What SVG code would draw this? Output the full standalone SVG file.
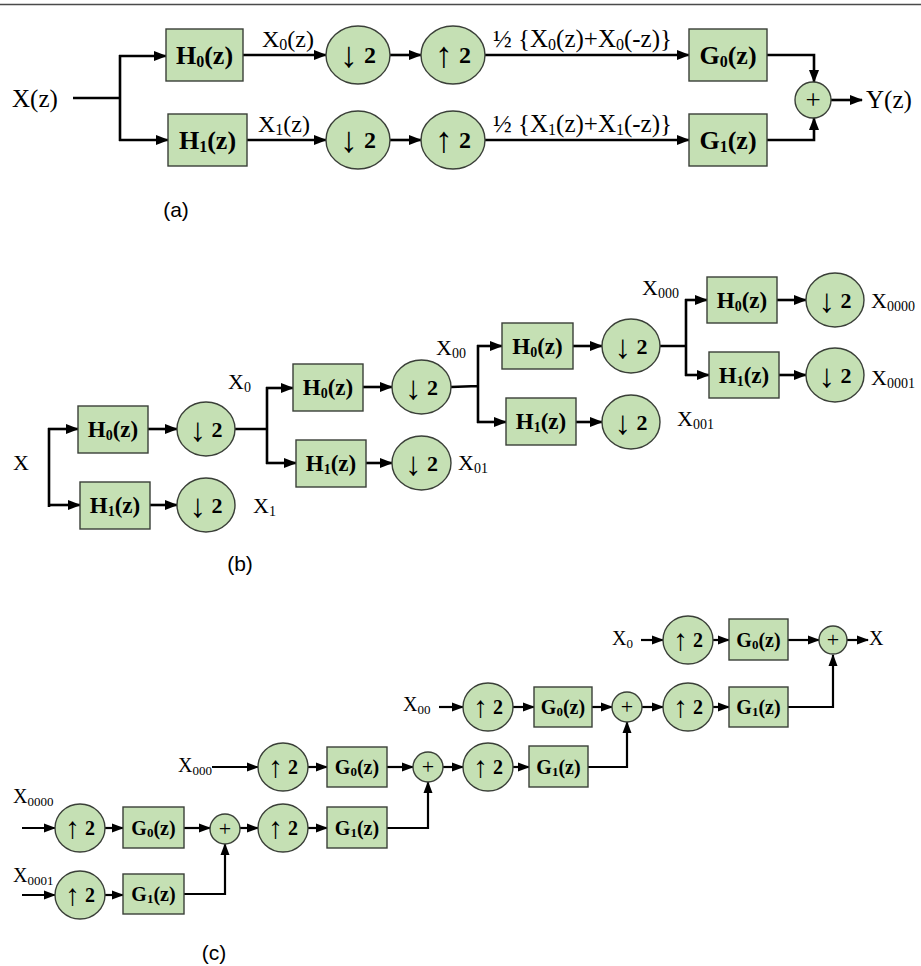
<svg xmlns="http://www.w3.org/2000/svg" width="921" height="966" viewBox="0 0 921 966">
<defs>
<style>
.bx{fill:#c5e0b4;stroke:#3a3f38;stroke-width:1.4}
.ln{fill:none;stroke:#000;stroke-width:2.6;stroke-linejoin:miter}
.ar{marker-end:url(#ah)}
.lc{fill:none;stroke:#000;stroke-width:2.2}
.ac{marker-end:url(#ahc)}
.t{font-family:"Liberation Serif","Times New Roman",serif;fill:#000}
.tb{font-family:"Liberation Serif","Times New Roman",serif;font-weight:bold;fill:#000;text-anchor:middle}
.aw{font-weight:normal}
.cap{font-family:"Liberation Sans",Arial,sans-serif;font-size:21px;fill:#000;text-anchor:middle}
</style>
<marker id="ah" markerUnits="userSpaceOnUse" markerWidth="14" markerHeight="12" refX="12" refY="6" orient="auto"><path d="M0,1 L13,6 L0,11 z" fill="#000"/></marker>
<marker id="ahc" markerUnits="userSpaceOnUse" markerWidth="13" markerHeight="11" refX="11" refY="5.5" orient="auto"><path d="M0,1 L12,5.5 L0,10 z" fill="#000"/></marker>
</defs>
<rect x="0" y="0" width="921" height="966" fill="#fff"/>
<line x1="0" y1="4.5" x2="921" y2="4.5" stroke="#4a4a4a" stroke-width="1.6"/>

<g id="connectors">
<path class="ln" d="M73,98 H120 M120,55 V141"/>
<path class="ln ar" d="M119,56 H166"/>
<path class="ln ar" d="M119,140 H168"/>
<path class="ln ar" d="M243,55 H326"/>
<path class="ln ar" d="M390,55 H421"/>
<path class="ln ar" d="M485,55 H689"/>
<path class="ln ar" d="M247,140 H326"/>
<path class="ln ar" d="M390,140 H421"/>
<path class="ln ar" d="M485,140 H689"/>
<path class="ln ar" d="M767,55 H814 V82"/>
<path class="ln ar" d="M767,140 H814 V118"/>
<path class="ln ar" d="M831,100 H862"/>
<path class="ln" d="M49,428 V507"/>
<path class="ln ar" d="M48,429 H78"/>
<path class="ln ar" d="M48,505 H80"/>
<path class="ln ar" d="M148,429 H177"/>
<path class="ln ar" d="M150,505 H177"/>
<path class="ln" d="M235,429 H267 M267,387 V464"/>
<path class="ln ar" d="M266,388 H293"/>
<path class="ln ar" d="M266,463 H296"/>
<path class="ln ar" d="M363,387 H392"/>
<path class="ln ar" d="M366,463 H392"/>
<path class="ln" d="M451,387 L478,386 M478,345 V423"/>
<path class="ln ar" d="M477,346 H502"/>
<path class="ln ar" d="M477,422 H506"/>
<path class="ln ar" d="M573,346 H602"/>
<path class="ln ar" d="M576,422 H602"/>
<path class="ln" d="M660,346 H686 M686,299 V376"/>
<path class="ln ar" d="M685,300 H707"/>
<path class="ln ar" d="M685,375 H709"/>
<path class="ln ar" d="M777,300 H806"/>
<path class="ln ar" d="M779,375 H806"/>
<path class="lc ac" d="M22,828 H55"/>
<path class="lc ac" d="M105,828 H123"/>
<path class="lc ac" d="M184,828 H210"/>
<path class="lc ac" d="M240,828 H258"/>
<path class="lc ac" d="M308,828 H327"/>
<path class="lc ac" d="M387,828 H428 V782"/>
<path class="lc ac" d="M22,895 H55"/>
<path class="lc ac" d="M105,895 H123"/>
<path class="lc ac" d="M184,894 H225 V844"/>
<path class="lc ac" d="M212,767 H258"/>
<path class="lc ac" d="M308,767 H327"/>
<path class="lc ac" d="M387,767 H413"/>
<path class="lc ac" d="M443,767 H463"/>
<path class="lc ac" d="M513,767 H529"/>
<path class="lc ac" d="M588,767 H627 V722"/>
<path class="lc ac" d="M439,707 H463"/>
<path class="lc ac" d="M513,707 H534"/>
<path class="lc ac" d="M592,707 H612"/>
<path class="lc ac" d="M642,707 H663"/>
<path class="lc ac" d="M713,707 H729"/>
<path class="lc ac" d="M788,707 H833 V655"/>
<path class="lc ac" d="M641,640 H663"/>
<path class="lc ac" d="M713,640 H729"/>
<path class="lc ac" d="M788,640 H819"/>
<path class="lc ac" d="M847,640 H868"/>
</g>

<g id="a_H0"><rect class="bx" x="166" y="29" width="77" height="52"/><text class="tb" x="204.5" y="64" font-size="26">H<tspan font-size="16" dy="3">0</tspan><tspan dy="-3">(z)</tspan></text></g>
<g id="a_H1"><rect class="bx" x="168" y="114" width="79" height="52"/><text class="tb" x="207.5" y="149" font-size="26">H<tspan font-size="16" dy="3">1</tspan><tspan dy="-3">(z)</tspan></text></g>
<g id="a_D0"><ellipse class="bx" cx="358" cy="55" rx="32" ry="29"/><text class="tb" x="358" y="63" font-size="24"><tspan class="aw" font-size="36" dy="4">↓</tspan><tspan dy="-4"> 2</tspan></text></g>
<g id="a_D1"><ellipse class="bx" cx="358" cy="140" rx="32" ry="29"/><text class="tb" x="358" y="148" font-size="24"><tspan class="aw" font-size="36" dy="4">↓</tspan><tspan dy="-4"> 2</tspan></text></g>
<g id="a_U0"><ellipse class="bx" cx="453" cy="55" rx="32" ry="29"/><text class="tb" x="453" y="63" font-size="24"><tspan class="aw" font-size="36" dy="4">↑</tspan><tspan dy="-4"> 2</tspan></text></g>
<g id="a_U1"><ellipse class="bx" cx="453" cy="140" rx="32" ry="29"/><text class="tb" x="453" y="148" font-size="24"><tspan class="aw" font-size="36" dy="4">↑</tspan><tspan dy="-4"> 2</tspan></text></g>
<g id="a_G0"><rect class="bx" x="689" y="29" width="78" height="52"/><text class="tb" x="728" y="64" font-size="26">G<tspan font-size="16" dy="3">0</tspan><tspan dy="-3">(z)</tspan></text></g>
<g id="a_G1"><rect class="bx" x="689" y="114" width="78" height="52"/><text class="tb" x="728" y="149" font-size="26">G<tspan font-size="16" dy="3">1</tspan><tspan dy="-3">(z)</tspan></text></g>
<g id="a_sum"><circle class="bx" cx="813" cy="100" r="18"/><text class="t" x="813" y="109" font-size="27" text-anchor="middle">+</text></g>

<g id="b_H0a"><rect class="bx" x="78" y="406" width="70" height="47"/><text class="tb" x="113" y="437" font-size="23">H<tspan font-size="14" dy="3">0</tspan><tspan dy="-3">(z)</tspan></text></g>
<g id="b_H1a"><rect class="bx" x="80" y="482" width="70" height="47"/><text class="tb" x="115" y="513" font-size="23">H<tspan font-size="14" dy="3">1</tspan><tspan dy="-3">(z)</tspan></text></g>
<g id="b_D0a"><ellipse class="bx" cx="206" cy="429" rx="29" ry="27"/><text class="tb" x="206" y="437" font-size="22"><tspan class="aw" font-size="33" dy="4">↓</tspan><tspan dy="-4"> 2</tspan></text></g>
<g id="b_D1a"><ellipse class="bx" cx="206" cy="505" rx="29" ry="27"/><text class="tb" x="206" y="513" font-size="22"><tspan class="aw" font-size="33" dy="4">↓</tspan><tspan dy="-4"> 2</tspan></text></g>
<g id="b_H0b"><rect class="bx" x="293" y="364" width="70" height="47"/><text class="tb" x="328" y="395" font-size="23">H<tspan font-size="14" dy="3">0</tspan><tspan dy="-3">(z)</tspan></text></g>
<g id="b_H1b"><rect class="bx" x="296" y="440" width="70" height="47"/><text class="tb" x="331" y="471" font-size="23">H<tspan font-size="14" dy="3">1</tspan><tspan dy="-3">(z)</tspan></text></g>
<g id="b_D0b"><ellipse class="bx" cx="421.5" cy="387" rx="29.5" ry="27"/><text class="tb" x="421.5" y="395" font-size="22"><tspan class="aw" font-size="33" dy="4">↓</tspan><tspan dy="-4"> 2</tspan></text></g>
<g id="b_D1b"><ellipse class="bx" cx="421.5" cy="463" rx="29.5" ry="27"/><text class="tb" x="421.5" y="471" font-size="22"><tspan class="aw" font-size="33" dy="4">↓</tspan><tspan dy="-4"> 2</tspan></text></g>
<g id="b_H0c"><rect class="bx" x="502" y="323" width="71" height="46"/><text class="tb" x="537.5" y="354" font-size="23">H<tspan font-size="14" dy="3">0</tspan><tspan dy="-3">(z)</tspan></text></g>
<g id="b_H1c"><rect class="bx" x="506" y="398" width="70" height="47"/><text class="tb" x="541" y="429" font-size="23">H<tspan font-size="14" dy="3">1</tspan><tspan dy="-3">(z)</tspan></text></g>
<g id="b_D0c"><ellipse class="bx" cx="631" cy="346" rx="29" ry="27"/><text class="tb" x="631" y="354" font-size="22"><tspan class="aw" font-size="33" dy="4">↓</tspan><tspan dy="-4"> 2</tspan></text></g>
<g id="b_D1c"><ellipse class="bx" cx="631" cy="422" rx="29" ry="27"/><text class="tb" x="631" y="430" font-size="22"><tspan class="aw" font-size="33" dy="4">↓</tspan><tspan dy="-4"> 2</tspan></text></g>
<g id="b_H0d"><rect class="bx" x="707" y="277" width="70" height="46"/><text class="tb" x="742" y="308" font-size="23">H<tspan font-size="14" dy="3">0</tspan><tspan dy="-3">(z)</tspan></text></g>
<g id="b_H1d"><rect class="bx" x="709" y="352" width="70" height="46"/><text class="tb" x="744" y="383" font-size="23">H<tspan font-size="14" dy="3">1</tspan><tspan dy="-3">(z)</tspan></text></g>
<g id="b_D0d"><ellipse class="bx" cx="835" cy="300" rx="29" ry="27"/><text class="tb" x="835" y="308" font-size="22"><tspan class="aw" font-size="33" dy="4">↓</tspan><tspan dy="-4"> 2</tspan></text></g>
<g id="b_D1d"><ellipse class="bx" cx="835" cy="375" rx="29" ry="27"/><text class="tb" x="835" y="383" font-size="22"><tspan class="aw" font-size="33" dy="4">↓</tspan><tspan dy="-4"> 2</tspan></text></g>

<g id="c_U0000"><ellipse class="bx" cx="80" cy="828" rx="25" ry="24"/><text class="tb" x="80" y="835" font-size="20"><tspan class="aw" font-size="30" dy="3">↑</tspan><tspan dy="-3"> 2</tspan></text></g>
<g id="c_G0a"><rect class="bx" x="123" y="807" width="61" height="41"/><text class="tb" x="153.5" y="835" font-size="20">G<tspan font-size="13" dy="2">0</tspan><tspan dy="-2">(z)</tspan></text></g>
<g id="c_U0001"><ellipse class="bx" cx="80" cy="895" rx="25" ry="24"/><text class="tb" x="80" y="902" font-size="20"><tspan class="aw" font-size="30" dy="3">↑</tspan><tspan dy="-3"> 2</tspan></text></g>
<g id="c_G1a"><rect class="bx" x="123" y="874" width="61" height="40"/><text class="tb" x="153.5" y="901" font-size="20">G<tspan font-size="13" dy="2">1</tspan><tspan dy="-2">(z)</tspan></text></g>
<g id="c_S1"><circle class="bx" cx="225" cy="829" r="15"/><text class="t" x="225" y="836" font-size="22" text-anchor="middle">+</text></g>
<g id="c_U1"><ellipse class="bx" cx="283" cy="828" rx="25" ry="24"/><text class="tb" x="283" y="835" font-size="20"><tspan class="aw" font-size="30" dy="3">↑</tspan><tspan dy="-3"> 2</tspan></text></g>
<g id="c_G1b"><rect class="bx" x="327" y="807" width="60" height="41"/><text class="tb" x="357" y="835" font-size="20">G<tspan font-size="13" dy="2">1</tspan><tspan dy="-2">(z)</tspan></text></g>
<g id="c_U000"><ellipse class="bx" cx="283" cy="767" rx="25" ry="24"/><text class="tb" x="283" y="774" font-size="20"><tspan class="aw" font-size="30" dy="3">↑</tspan><tspan dy="-3"> 2</tspan></text></g>
<g id="c_G0b"><rect class="bx" x="327" y="747" width="60" height="40"/><text class="tb" x="357" y="774" font-size="20">G<tspan font-size="13" dy="2">0</tspan><tspan dy="-2">(z)</tspan></text></g>
<g id="c_S2"><circle class="bx" cx="428" cy="767" r="15"/><text class="t" x="428" y="774" font-size="22" text-anchor="middle">+</text></g>
<g id="c_U2"><ellipse class="bx" cx="488" cy="767" rx="25" ry="24"/><text class="tb" x="488" y="774" font-size="20"><tspan class="aw" font-size="30" dy="3">↑</tspan><tspan dy="-3"> 2</tspan></text></g>
<g id="c_G1c"><rect class="bx" x="529" y="746" width="59" height="41"/><text class="tb" x="558.5" y="774" font-size="20">G<tspan font-size="13" dy="2">1</tspan><tspan dy="-2">(z)</tspan></text></g>
<g id="c_U00"><ellipse class="bx" cx="488" cy="707" rx="25" ry="24"/><text class="tb" x="488" y="714" font-size="20"><tspan class="aw" font-size="30" dy="3">↑</tspan><tspan dy="-3"> 2</tspan></text></g>
<g id="c_G0c"><rect class="bx" x="534" y="687" width="58" height="40"/><text class="tb" x="563" y="714" font-size="20">G<tspan font-size="13" dy="2">0</tspan><tspan dy="-2">(z)</tspan></text></g>
<g id="c_S3"><circle class="bx" cx="627" cy="707" r="15"/><text class="t" x="627" y="714" font-size="22" text-anchor="middle">+</text></g>
<g id="c_U3"><ellipse class="bx" cx="688" cy="707" rx="25" ry="24"/><text class="tb" x="688" y="714" font-size="20"><tspan class="aw" font-size="30" dy="3">↑</tspan><tspan dy="-3"> 2</tspan></text></g>
<g id="c_G1d"><rect class="bx" x="729" y="687" width="59" height="40"/><text class="tb" x="758.5" y="714" font-size="20">G<tspan font-size="13" dy="2">1</tspan><tspan dy="-2">(z)</tspan></text></g>
<g id="c_U0"><ellipse class="bx" cx="688" cy="640" rx="25" ry="24"/><text class="tb" x="688" y="647" font-size="20"><tspan class="aw" font-size="30" dy="3">↑</tspan><tspan dy="-3"> 2</tspan></text></g>
<g id="c_G0d"><rect class="bx" x="729" y="619" width="59" height="41"/><text class="tb" x="758.5" y="647" font-size="20">G<tspan font-size="13" dy="2">0</tspan><tspan dy="-2">(z)</tspan></text></g>
<g id="c_S4"><circle class="bx" cx="833" cy="640" r="14"/><text class="t" x="833" y="647" font-size="22" text-anchor="middle">+</text></g>

<g id="labels">
<text class="t" x="12" y="107" font-size="25">X(z)</text>
<text class="t" x="866" y="108" font-size="25">Y(z)</text>
<text class="t" x="262" y="47" font-size="24">X<tspan font-size="16" dy="3">0</tspan><tspan dy="-3">(z)</tspan></text>
<text class="t" x="258" y="132" font-size="24">X<tspan font-size="16" dy="3">1</tspan><tspan dy="-3">(z)</tspan></text>
<text class="t" x="493" y="47" font-size="25">½ {X<tspan font-size="16" dy="3">0</tspan><tspan dy="-3">(z)+X</tspan><tspan font-size="16" dy="3">0</tspan><tspan dy="-3">(-z)}</tspan></text>
<text class="t" x="493" y="132" font-size="25">½ {X<tspan font-size="16" dy="3">1</tspan><tspan dy="-3">(z)+X</tspan><tspan font-size="16" dy="3">1</tspan><tspan dy="-3">(-z)}</tspan></text>
<text class="cap" x="176" y="217">(a)</text>

<text class="t" x="13" y="470" font-size="22">X</text>
<text class="t" x="253" y="513" font-size="22">X<tspan font-size="14" dy="3">1</tspan></text>
<text class="t" x="228" y="389" font-size="22">X<tspan font-size="14" dy="3">0</tspan></text>
<text class="t" x="458" y="470" font-size="22">X<tspan font-size="14" dy="3">01</tspan></text>
<text class="t" x="436" y="355" font-size="22">X<tspan font-size="14" dy="3">00</tspan></text>
<text class="t" x="677" y="426" font-size="22">X<tspan font-size="14" dy="3">001</tspan></text>
<text class="t" x="642" y="295" font-size="22">X<tspan font-size="14" dy="3">000</tspan></text>
<text class="t" x="871" y="308" font-size="22">X<tspan font-size="14" dy="3">0000</tspan></text>
<text class="t" x="871" y="385" font-size="22">X<tspan font-size="14" dy="3">0001</tspan></text>
<text class="cap" x="240" y="571">(b)</text>

<text class="t" x="13" y="803" font-size="20">X<tspan font-size="13" dy="3">0000</tspan></text>
<text class="t" x="13" y="882" font-size="20">X<tspan font-size="13" dy="3">0001</tspan></text>
<text class="t" x="178" y="772" font-size="20">X<tspan font-size="13" dy="3">000</tspan></text>
<text class="t" x="403" y="711" font-size="20">X<tspan font-size="13" dy="3">00</tspan></text>
<text class="t" x="612" y="645" font-size="20">X<tspan font-size="13" dy="3">0</tspan></text>
<text class="t" x="869" y="645" font-size="20">X</text>
<text class="cap" x="214" y="960">(c)</text>
</g>
</svg>
